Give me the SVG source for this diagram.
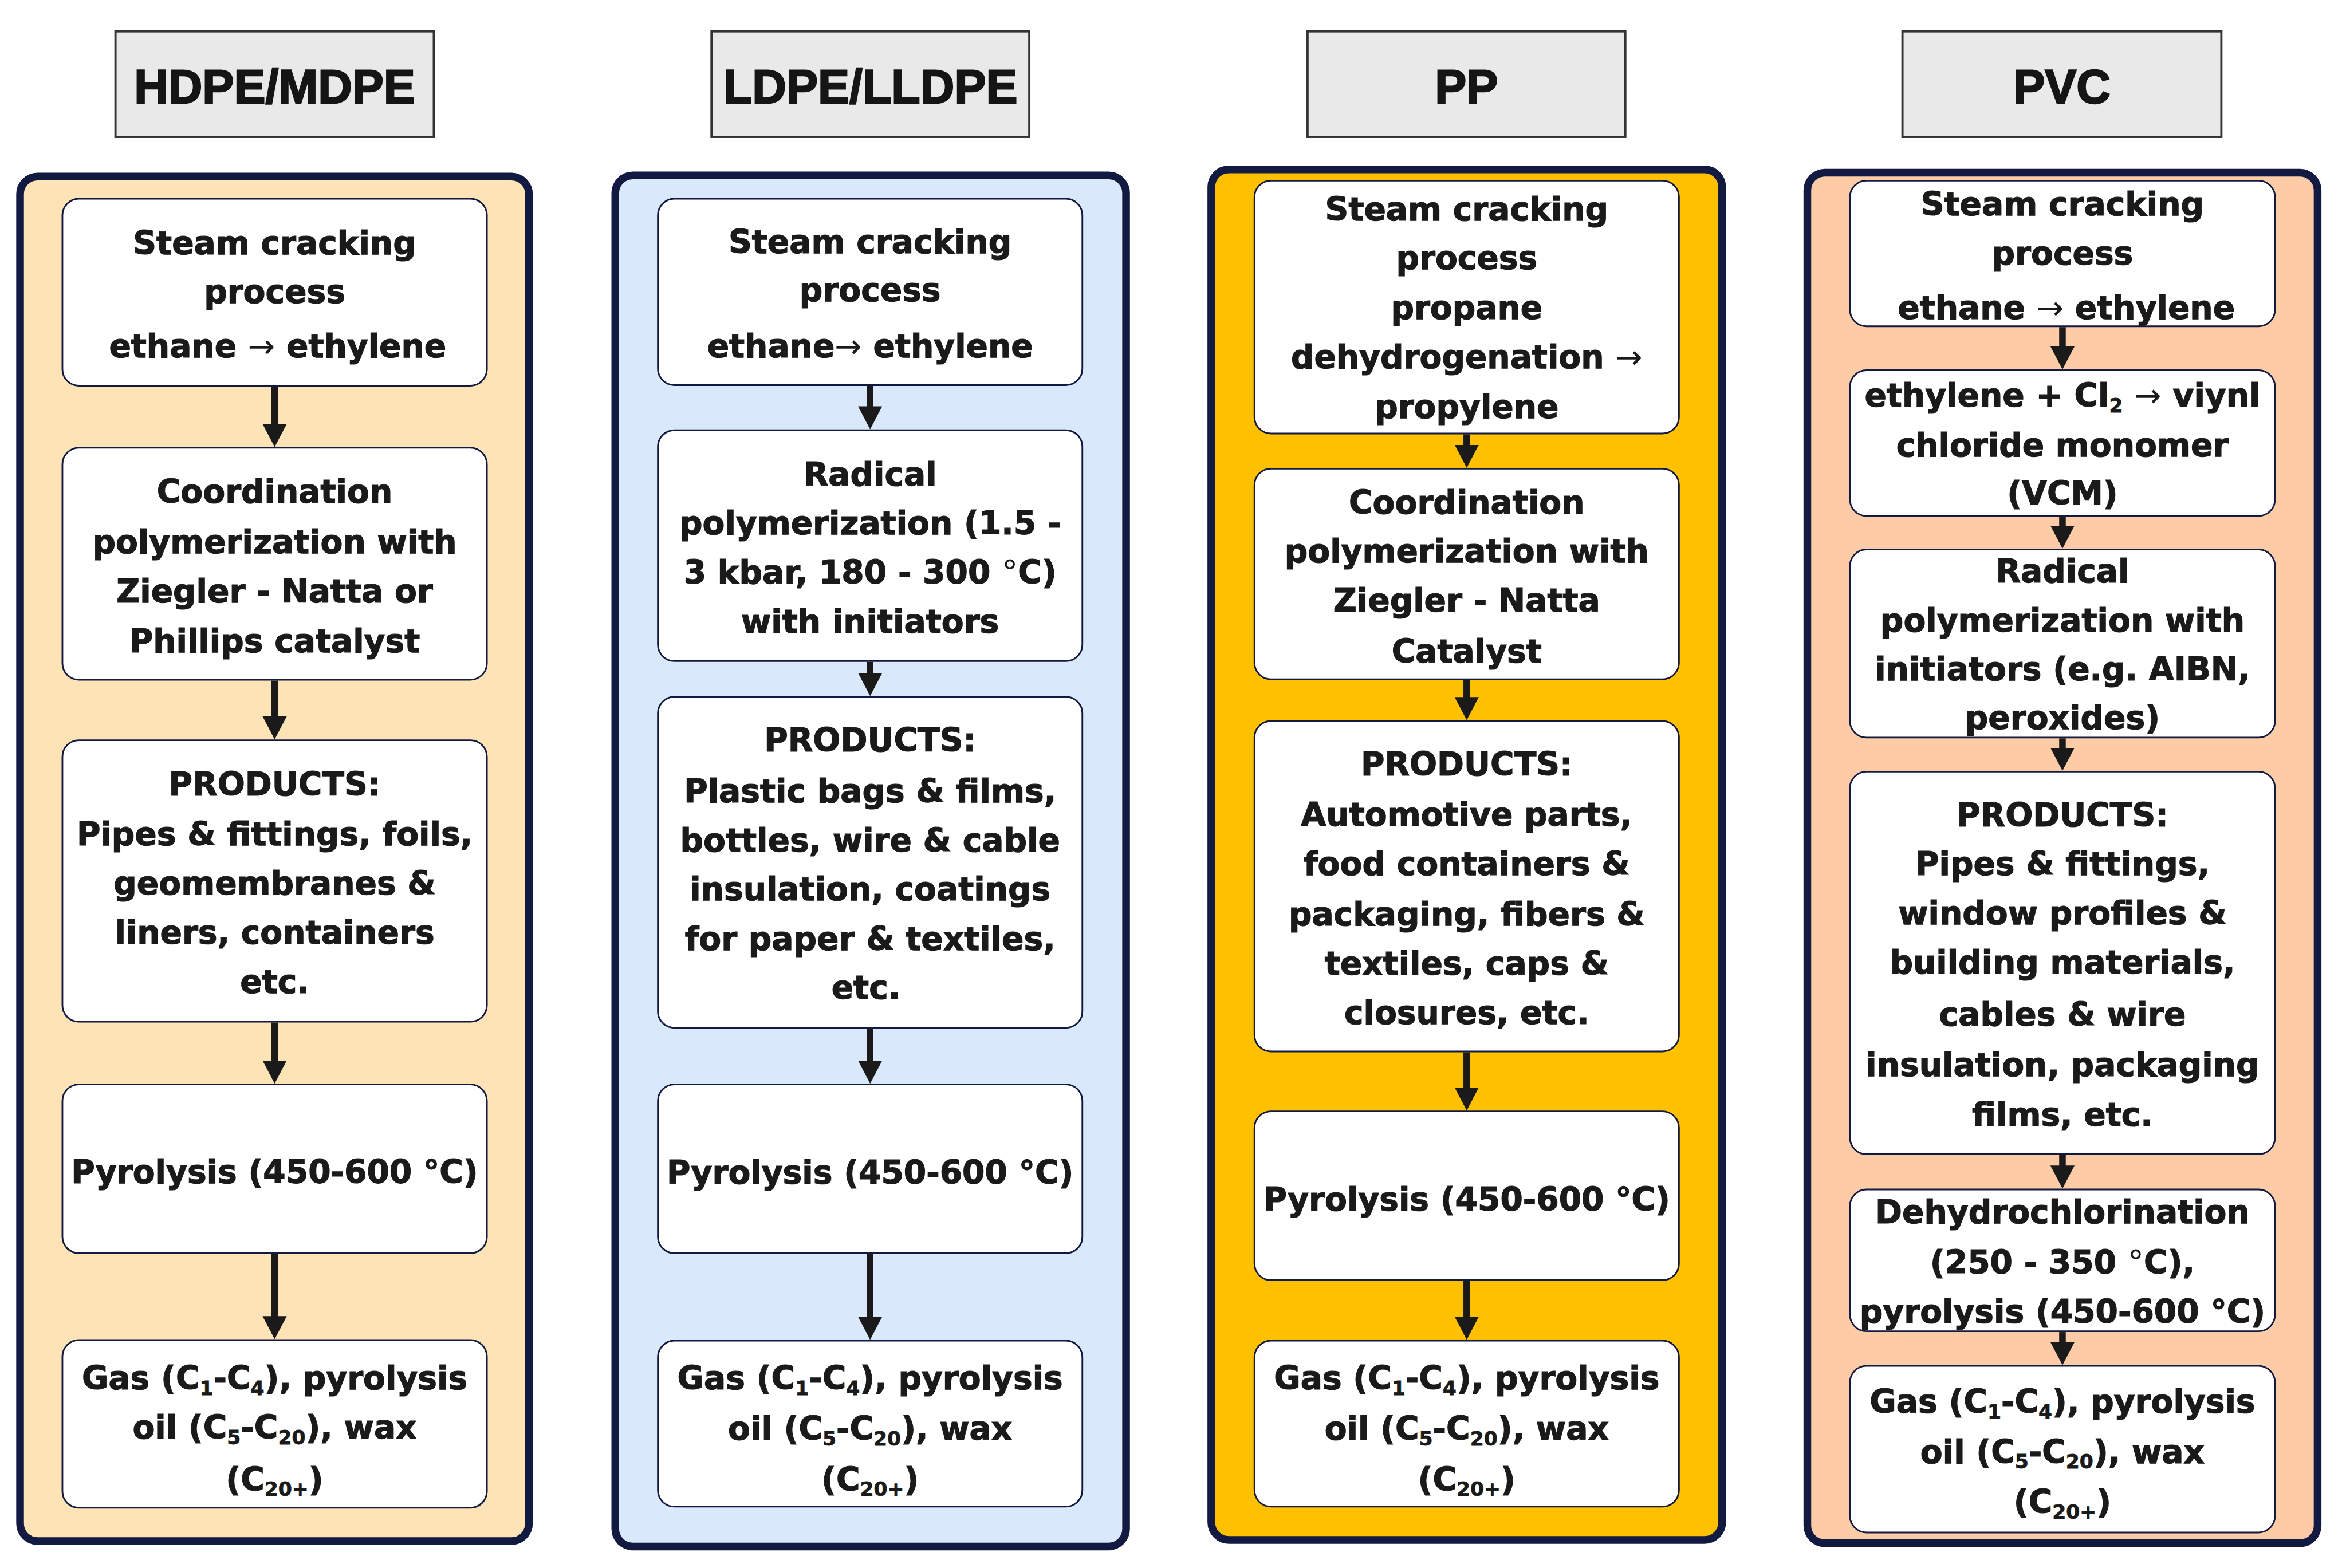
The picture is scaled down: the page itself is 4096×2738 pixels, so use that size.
<svg xmlns="http://www.w3.org/2000/svg" width="4096" height="2738" viewBox="0 0 4096 2738">
<style>
.hdr{fill:#e9e9e9;stroke:#333;stroke-width:4}
.ht{font-family:"Liberation Sans",Arial,sans-serif;font-weight:bold;font-size:86px;fill:#151515;stroke:#151515;stroke-width:2.5;text-anchor:middle}
.col{stroke:#131a42;stroke-width:14}
.box{fill:#fff;stroke:#131a42;stroke-width:3}
.t{font-family:"DejaVu Sans","Liberation Sans",sans-serif;font-weight:bold;font-size:59px;fill:#1a1a1a;stroke:#1a1a1a;stroke-width:1.3;text-anchor:middle}
.ar{font-weight:normal;stroke-width:0}
.s{font-size:36px;stroke-width:0.8}
.cn{stroke:#1a1a1a;stroke-width:12;fill:none}
</style>
<defs>
<marker id="ah" viewBox="0 0 42 44" refX="12" refY="22" markerWidth="42" markerHeight="44" markerUnits="userSpaceOnUse" orient="auto">
<path d="M0,0 L42,22 L0,44 Z" fill="#1a1a1a"/>
</marker>
</defs>
<rect width="4096" height="2738" fill="#fff"/>
<g transform="scale(0.96)">
<!-- headers -->
<g id="hdr-hdpe"><rect class="hdr" x="210" y="57" width="579" height="192"/><text class="ht" x="499.5" y="188">HDPE/MDPE</text></g>
<g id="hdr-ldpe"><rect class="hdr" x="1294" y="57" width="578" height="192"/><text class="ht" x="1583" y="188">LDPE/LLDPE</text></g>
<g id="hdr-pp"><rect class="hdr" x="2378" y="57" width="578" height="192"/><text class="ht" x="2667" y="188">PP</text></g>
<g id="hdr-pvc"><rect class="hdr" x="3460" y="57" width="580" height="192"/><text class="ht" x="3750" y="188">PVC</text></g>
<!-- columns -->
<g id="col-hdpe"><rect class="col" x="36.5" y="321" width="925.5" height="2482" rx="32" fill="#fde3b5"/></g>
<g id="col-ldpe"><rect class="col" x="1119" y="319" width="929" height="2494" rx="32" fill="#dae8fc"/></g>
<g id="col-pp"><rect class="col" x="2203" y="308" width="929" height="2493" rx="32" fill="#ffc000"/></g>
<g id="col-pvc"><rect class="col" x="3287" y="314" width="928" height="2493" rx="32" fill="#fecba7"/></g>

<!-- HDPE nodes -->
<g id="n1-1"><rect class="box" x="113.5" y="361.5" width="772" height="340" rx="30"/>
<text class="t"><tspan x="499.5" y="462">Steam cracking</tspan><tspan x="499.5" y="551">process</tspan><tspan x="505" y="650">ethane <tspan class="ar">→</tspan> ethylene</tspan></text></g>
<g id="n1-2"><rect class="box" x="113.5" y="814.5" width="772" height="422" rx="30"/>
<text class="t"><tspan x="499.5" y="915">Coordination</tspan><tspan x="499.5" y="1006">polymerization with</tspan><tspan x="499.5" y="1096">Ziegler - Natta or</tspan><tspan x="499.5" y="1186">Phillips catalyst</tspan></text></g>
<g id="n1-3"><rect class="box" x="113.5" y="1346.5" width="772" height="512" rx="30"/>
<text class="t"><tspan x="499.5" y="1447">PRODUCTS:</tspan><tspan x="499.5" y="1537">Pipes &amp; fittings, foils,</tspan><tspan x="499.5" y="1627">geomembranes &amp;</tspan><tspan x="499.5" y="1717">liners, containers</tspan><tspan x="499.5" y="1806">etc.</tspan></text></g>
<g id="n1-4"><rect class="box" x="113.5" y="1972.5" width="772" height="307" rx="30"/>
<text class="t"><tspan x="499.5" y="2152">Pyrolysis (450-600 °C)</tspan></text></g>
<g id="n1-5"><rect class="box" x="113.5" y="2437.5" width="772" height="305" rx="30"/>
<text class="t"><tspan x="499.5" y="2527">Gas (C<tspan class="s" dy="10">1</tspan><tspan dy="-10">-C</tspan><tspan class="s" dy="10">4</tspan><tspan dy="-10">), pyrolysis</tspan></tspan><tspan x="499.5" y="2617">oil (C<tspan class="s" dy="10">5</tspan><tspan dy="-10">-C</tspan><tspan class="s" dy="10">20</tspan><tspan dy="-10">), wax</tspan></tspan><tspan x="499.5" y="2711">(C<tspan class="s" dy="10">20+</tspan><tspan dy="-10">)</tspan></tspan></text></g>

<!-- LDPE nodes -->
<g id="n2-1"><rect class="box" x="1196.5" y="361.5" width="772" height="339" rx="30"/>
<text class="t"><tspan x="1582.5" y="460">Steam cracking</tspan><tspan x="1582.5" y="548">process</tspan><tspan x="1582.5" y="650">ethane<tspan class="ar">→</tspan> ethylene</tspan></text></g>
<g id="n2-2"><rect class="box" x="1196.5" y="782.5" width="772" height="420" rx="30"/>
<text class="t"><tspan x="1582.5" y="883">Radical</tspan><tspan x="1582.5" y="972">polymerization (1.5 -</tspan><tspan x="1582.5" y="1061">3 kbar, 180 - 300 <tspan class="ar">°</tspan>C)</tspan><tspan x="1582.5" y="1151">with initiators</tspan></text></g>
<g id="n2-3"><rect class="box" x="1196.5" y="1267.5" width="772" height="602" rx="30"/>
<text class="t"><tspan x="1582.5" y="1367">PRODUCTS:</tspan><tspan x="1582.5" y="1459">Plastic bags &amp; films,</tspan><tspan x="1582.5" y="1549">bottles, wire &amp; cable</tspan><tspan x="1582.5" y="1638">insulation, coatings</tspan><tspan x="1582.5" y="1728">for paper &amp; textiles,</tspan><tspan x="1575" y="1817">etc.</tspan></text></g>
<g id="n2-4"><rect class="box" x="1196.5" y="1972.5" width="772" height="307" rx="30"/>
<text class="t"><tspan x="1582.5" y="2153">Pyrolysis (450-600 °C)</tspan></text></g>
<g id="n2-5"><rect class="box" x="1196.5" y="2438.5" width="772" height="302" rx="30"/>
<text class="t"><tspan x="1582.5" y="2527">Gas (C<tspan class="s" dy="10">1</tspan><tspan dy="-10">-C</tspan><tspan class="s" dy="10">4</tspan><tspan dy="-10">), pyrolysis</tspan></tspan><tspan x="1582.5" y="2619">oil (C<tspan class="s" dy="10">5</tspan><tspan dy="-10">-C</tspan><tspan class="s" dy="10">20</tspan><tspan dy="-10">), wax</tspan></tspan><tspan x="1582.5" y="2711">(C<tspan class="s" dy="10">20+</tspan><tspan dy="-10">)</tspan></tspan></text></g>

<!-- PP nodes -->
<g id="n3-1"><rect class="box" x="2281.5" y="328.5" width="772" height="460" rx="30"/>
<text class="t"><tspan x="2667.5" y="401">Steam cracking</tspan><tspan x="2667.5" y="490">process</tspan><tspan x="2667.5" y="580">propane</tspan><tspan x="2667.5" y="670">dehydrogenation <tspan class="ar">→</tspan></tspan><tspan x="2667.5" y="760">propylene</tspan></text></g>
<g id="n3-2"><rect class="box" x="2281.5" y="852.5" width="772" height="383" rx="30"/>
<text class="t"><tspan x="2667.5" y="934">Coordination</tspan><tspan x="2667.5" y="1023">polymerization with</tspan><tspan x="2667.5" y="1112">Ziegler - Natta</tspan><tspan x="2667.5" y="1205">Catalyst</tspan></text></g>
<g id="n3-3"><rect class="box" x="2281.5" y="1311.5" width="772" height="601" rx="30"/>
<text class="t"><tspan x="2667.5" y="1410">PRODUCTS:</tspan><tspan x="2667.5" y="1502">Automotive parts,</tspan><tspan x="2667.5" y="1592">food containers &amp;</tspan><tspan x="2667.5" y="1683">packaging, fibers &amp;</tspan><tspan x="2667.5" y="1773">textiles, caps &amp;</tspan><tspan x="2667.5" y="1863">closures, etc.</tspan></text></g>
<g id="n3-4"><rect class="box" x="2281.5" y="2021.5" width="772" height="307" rx="30"/>
<text class="t"><tspan x="2667.5" y="2202">Pyrolysis (450-600 °C)</tspan></text></g>
<g id="n3-5"><rect class="box" x="2281.5" y="2438.5" width="772" height="302" rx="30"/>
<text class="t"><tspan x="2667.5" y="2527">Gas (C<tspan class="s" dy="10">1</tspan><tspan dy="-10">-C</tspan><tspan class="s" dy="10">4</tspan><tspan dy="-10">), pyrolysis</tspan></tspan><tspan x="2667.5" y="2619">oil (C<tspan class="s" dy="10">5</tspan><tspan dy="-10">-C</tspan><tspan class="s" dy="10">20</tspan><tspan dy="-10">), wax</tspan></tspan><tspan x="2667.5" y="2711">(C<tspan class="s" dy="10">20+</tspan><tspan dy="-10">)</tspan></tspan></text></g>

<!-- PVC nodes -->
<g id="n4-1"><rect class="box" x="3364.5" y="328.5" width="773" height="265" rx="30"/>
<text class="t"><tspan x="3751" y="392">Steam cracking</tspan><tspan x="3751" y="481">process</tspan><tspan x="3758" y="580">ethane <tspan class="ar">→</tspan> ethylene</tspan></text></g>
<g id="n4-2"><rect class="box" x="3364.5" y="673.5" width="773" height="265" rx="30"/>
<text class="t"><tspan x="3751" y="740">ethylene + Cl<tspan class="s" dy="10">2</tspan><tspan dy="-10"> </tspan><tspan class="ar">→</tspan> viynl</tspan><tspan x="3751" y="830">chloride monomer</tspan><tspan x="3751" y="918">(VCM)</tspan></text></g>
<g id="n4-3"><rect class="box" x="3364.5" y="999.5" width="773" height="342" rx="30"/>
<text class="t"><tspan x="3751" y="1059">Radical</tspan><tspan x="3751" y="1149">polymerization with</tspan><tspan x="3751" y="1238">initiators (e.g. AIBN,</tspan><tspan x="3751" y="1326">peroxides)</tspan></text></g>
<g id="n4-4"><rect class="box" x="3364.5" y="1403.5" width="773" height="696" rx="30"/>
<text class="t"><tspan x="3751" y="1503">PRODUCTS:</tspan><tspan x="3751" y="1592">Pipes &amp; fittings,</tspan><tspan x="3751" y="1681">window profiles &amp;</tspan><tspan x="3751" y="1771">building materials,</tspan><tspan x="3751" y="1866">cables &amp; wire</tspan><tspan x="3751" y="1957">insulation, packaging</tspan><tspan x="3751" y="2048">films, etc.</tspan></text></g>
<g id="n4-5"><rect class="box" x="3364.5" y="2163.5" width="773" height="258" rx="30"/>
<text class="t"><tspan x="3751" y="2225">Dehydrochlorination</tspan><tspan x="3751" y="2317">(250 - 350 <tspan class="ar">°</tspan>C),</tspan><tspan x="3751" y="2406">pyrolysis (450-600 °C)</tspan></text></g>
<g id="n4-6"><rect class="box" x="3364.5" y="2484.5" width="773" height="303" rx="30"/>
<text class="t"><tspan x="3751" y="2570">Gas (C<tspan class="s" dy="10">1</tspan><tspan dy="-10">-C</tspan><tspan class="s" dy="10">4</tspan><tspan dy="-10">), pyrolysis</tspan></tspan><tspan x="3751" y="2661">oil (C<tspan class="s" dy="10">5</tspan><tspan dy="-10">-C</tspan><tspan class="s" dy="10">20</tspan><tspan dy="-10">), wax</tspan></tspan><tspan x="3751" y="2752">(C<tspan class="s" dy="10">20+</tspan><tspan dy="-10">)</tspan></tspan></text></g>

<!-- connectors -->
<g id="connectors" class="cn" marker-end="url(#ah)">
<line x1="499.5" y1="703" x2="499.5" y2="783"/>
<line x1="499.5" y1="1238" x2="499.5" y2="1315"/>
<line x1="499.5" y1="1860" x2="499.5" y2="1941"/>
<line x1="499.5" y1="2281" x2="499.5" y2="2406"/>
<line x1="1582.5" y1="702" x2="1582.5" y2="751"/>
<line x1="1582.5" y1="1204" x2="1582.5" y2="1236"/>
<line x1="1582.5" y1="1871" x2="1582.5" y2="1941"/>
<line x1="1582.5" y1="2281" x2="1582.5" y2="2407"/>
<line x1="2667.5" y1="790" x2="2667.5" y2="821"/>
<line x1="2667.5" y1="1237" x2="2667.5" y2="1280"/>
<line x1="2667.5" y1="1914" x2="2667.5" y2="1990"/>
<line x1="2667.5" y1="2330" x2="2667.5" y2="2407"/>
<line x1="3751" y1="595" x2="3751" y2="642"/>
<line x1="3751" y1="940" x2="3751" y2="968"/>
<line x1="3751" y1="1343" x2="3751" y2="1372"/>
<line x1="3751" y1="2101" x2="3751" y2="2132"/>
<line x1="3751" y1="2423" x2="3751" y2="2453"/>
</g>
</g>
</svg>
